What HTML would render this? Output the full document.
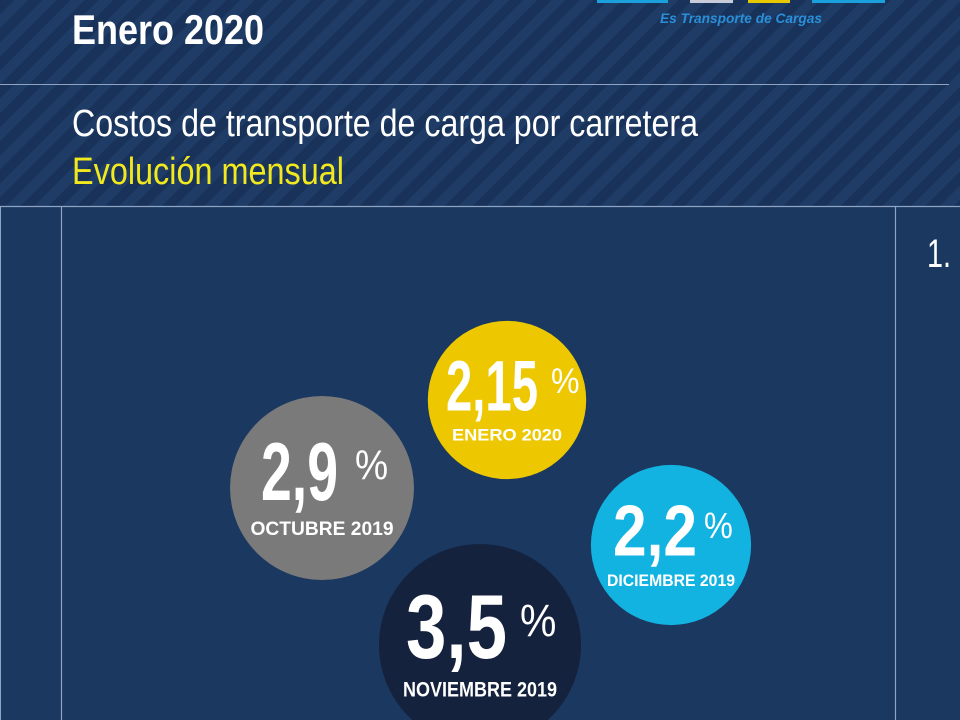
<!DOCTYPE html>
<html><head><meta charset="utf-8"><style>
html,body{margin:0;padding:0;width:960px;height:720px;overflow:hidden;background:#1a3860;}
#hdr{position:absolute;left:0;top:0;width:960px;height:206px;
background:repeating-linear-gradient(135deg,#18325a 0px,#18325a 10px,#1f3c66 10px,#1f3c66 20px);}
svg{position:absolute;left:0;top:0;}
</style></head><body>
<div id="hdr"></div>
<svg id="svg" width="960" height="720">
  <g>
    <rect x="597" y="0" width="71" height="3" fill="#1aa0dc"/>
    <rect x="690" y="0" width="43" height="3" fill="#c8ccd8"/>
    <rect x="748" y="0" width="42" height="3" fill="#e8c800"/>
    <rect x="812" y="0" width="73" height="3" fill="#1aa0dc"/>
    <text x="660" y="23" font-family="Liberation Sans" font-weight="bold" font-style="italic" font-size="14" fill="#2a8fd8" textLength="162" lengthAdjust="spacingAndGlyphs">Es Transporte de Cargas</text>
  </g>
  <text x="72" y="44" font-family="Liberation Sans" font-weight="bold" font-size="42" fill="#fff" textLength="192" lengthAdjust="spacingAndGlyphs">Enero 2020</text>
  <line x1="0" y1="84.5" x2="949" y2="84.5" stroke="#8fa3c2" stroke-width="1"/>
  <text x="72" y="136" font-family="Liberation Sans" font-size="38" fill="#fff" textLength="626" lengthAdjust="spacingAndGlyphs">Costos de transporte de carga por carretera</text>
  <text x="72" y="184" font-family="Liberation Sans" font-size="38" fill="#f2e81e" textLength="272" lengthAdjust="spacingAndGlyphs">Evolución mensual</text>
  <line x1="0" y1="206.5" x2="960" y2="206.5" stroke="#8fa3c2" stroke-width="1.2"/>
  <line x1="0.5" y1="206" x2="0.5" y2="720" stroke="#8fa3c2" stroke-width="1"/>
  <line x1="61.5" y1="206" x2="61.5" y2="720" stroke="#8fa3c2" stroke-width="1.2"/>
  <line x1="895.5" y1="206" x2="895.5" y2="720" stroke="#8fa3c2" stroke-width="1.2"/>
  <text x="927" y="267" font-family="Liberation Sans" font-size="40" fill="#fff" textLength="24" lengthAdjust="spacingAndGlyphs">1.</text>
  <g id="bubbles"></g>
</svg>
<script>
const months = ["OCTUBRE 2019","NOVIEMBRE 2019","DICIEMBRE 2019","ENERO 2020"];
const values = [2.9, 3.5, 2.2, 2.15];
const valueLabels = ["2,9","3,5","2,2","2,15"];
const colors = ["#7a7a7a","#15223d","#12b3e0","#edc800"];
// layout (not data): bubble centers and text geometry
const centers = [[322,488],[480,645],[671,545],[507,400]];
const numLeft = [-61,-74,-58,-61];
const numWidth = [77,101,84,92];
const pctGap = [17,13,7,13];
const labelWidth = [143,154,128,110];
const NS = "http://www.w3.org/2000/svg";
const g = document.getElementById('bubbles');
function rScale(v){ return 54*Math.sqrt(v); }
function mk(tag, attrs, parent){ const e=document.createElementNS(NS,tag); for(const k in attrs) e.setAttribute(k,attrs[k]); parent.appendChild(e); return e; }
months.forEach((m,i)=>{
  const r = rScale(values[i]);
  const [cx,cy] = centers[i];
  const grp = mk('g',{},g);
  
  
  const c = mk('circle',{cx:cx,cy:cy,r:r,fill:colors[i]},grp);
  
  
  const numW = numWidth[i];
  const numFs = r*0.9;
  const numX = cx + numLeft[i];
  const numY = cy + r*0.13;
  const t = mk('text',{x:numX,y:numY,'font-family':'Liberation Sans','font-weight':'bold','font-size':numFs,fill:'#fff',textLength:numW,lengthAdjust:'spacingAndGlyphs'},grp);
  t.textContent = valueLabels[i];
  
  
  const p = mk('text',{x:numX+numW+pctGap[i],y:numY-r*0.22,'font-family':'Liberation Sans','font-size':r*0.45,fill:'#fff',textLength:r*0.36,lengthAdjust:'spacingAndGlyphs'},grp);
  p.textContent = '%';
  
  
  const l = mk('text',{x:cx,y:cy+r*0.51,'text-anchor':'middle','font-family':'Liberation Sans','font-weight':'bold','font-size':r*0.21,fill:'#fff',textLength:labelWidth[i],lengthAdjust:'spacingAndGlyphs'},grp);
  l.textContent = m;
  
  
});
</script>
</body></html>
